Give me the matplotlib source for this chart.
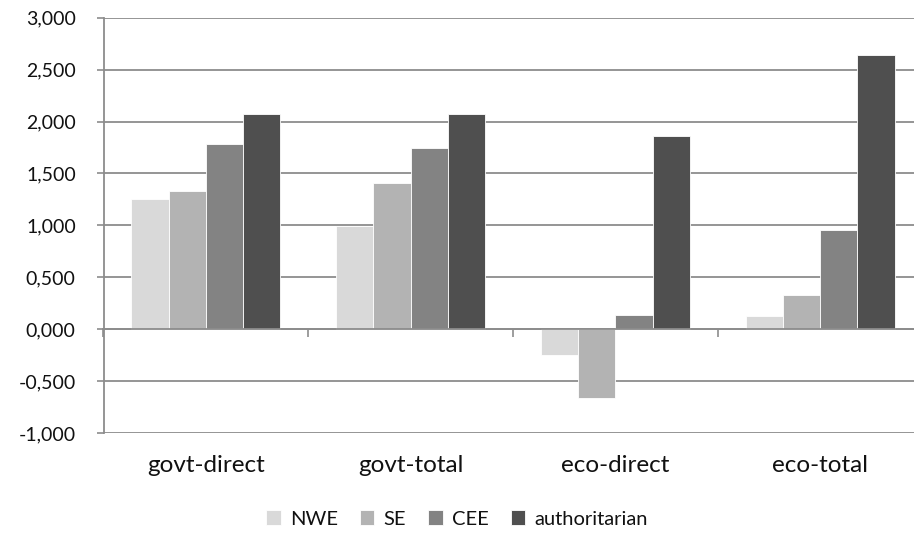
import numpy as np
import matplotlib.pyplot as plt
from matplotlib.ticker import FuncFormatter

# effect sizes per indicator, one list per regime group
categories = ['govt-direct', 'govt-total', 'eco-direct', 'eco-total']
groups = ['NWE', 'SE', 'CEE', 'authoritarian']
nwe = [1.256, 0.996, -0.248, 0.128]
se = [1.327, 1.404, -0.660, 0.328]
cee = [1.784, 1.745, 0.138, 0.951]
authoritarian = [2.076, 2.076, 1.857, 2.638]
colors = ['#d9d9d9', '#b3b3b3', '#838383', '#4f4f4f']

series = [nwe, se, cee, authoritarian]
grid_color = '#8c8c8c'
text_color = '#111111'

plt.rcParams['font.family'] = ['Lato', 'DejaVu Sans']

fig = plt.figure(figsize=(9.14, 5.39), dpi=100)
ax = fig.add_axes([103.5 / 914, 1 - 433 / 539, 819 / 914, (433 - 17.7) / 539])

x = np.arange(len(categories))
width = 0.182
for i, (vals, name, col) in enumerate(zip(series, groups, colors)):
    ax.bar(x + (i - 1.5) * width, vals, width, color=col, label=name,
           edgecolor='white', linewidth=0.6, zorder=3)

ax.set_xlim(-0.5, 3.5)
ax.set_ylim(-1, 3)
ax.set_yticks(np.arange(-1, 3.01, 0.5))
ax.yaxis.set_major_formatter(FuncFormatter(lambda v, p: f'{v:.3f}'.replace('.', ',')))
ax.grid(axis='y', color=grid_color, linewidth=1.3, zorder=0)
ax.tick_params(axis='y', length=5, width=1.2, color=grid_color, pad=15,
               labelsize=14, labelcolor=text_color)

# zero line carries the category boundary ticks
for s in ['top', 'right']:
    ax.spines[s].set_visible(False)
ax.spines['left'].set_color(grid_color)
ax.spines['left'].set_linewidth(1.3)
ax.spines['bottom'].set_position(('data', 0))
ax.spines['bottom'].set_color(grid_color)
ax.spines['bottom'].set_linewidth(1.3)
ax.spines['bottom'].set_zorder(4)
ax.set_xticks(np.arange(-0.5, 3.6, 1.0))
ax.set_xticklabels([])
ax.tick_params(axis='x', length=6, width=1.2, color=grid_color, direction='out')

# category names sit below the chart
sec = ax.secondary_xaxis('bottom')
sec.set_xticks(x)
sec.set_xticklabels(categories)
sec.tick_params(length=0, pad=16, labelsize=17.5, labelcolor=text_color)
sec.spines['bottom'].set_visible(False)

fig.legend(loc='center', bbox_to_anchor=(0.5, 1 - 519 / 539), ncol=4,
           frameon=False, fontsize=14.5, handlelength=0.72, handleheight=0.72,
           handletextpad=0.45, columnspacing=1.1, labelcolor=text_color)

fig.savefig('out.png', dpi=100)
